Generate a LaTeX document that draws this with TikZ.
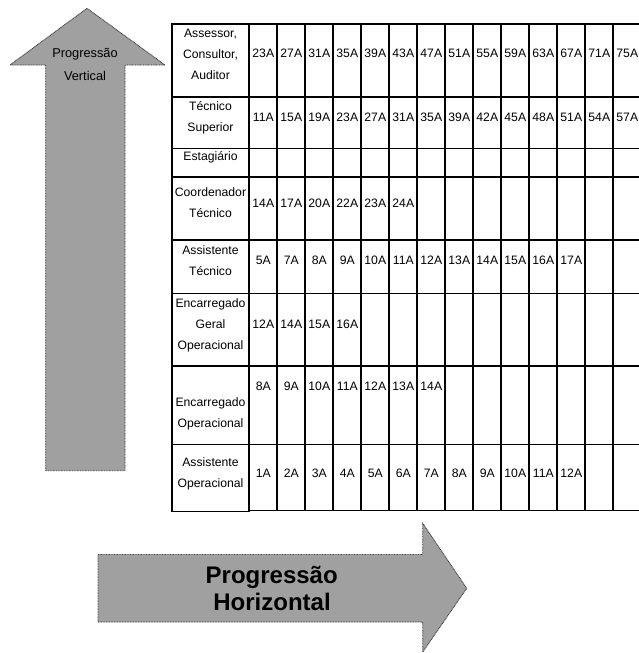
\documentclass[tikz,border=0pt]{standalone}
\usepackage{fontspec}
\setmainfont{Liberation Sans}
\definecolor{arrowgray}{RGB}{160,160,160}
\definecolor{dotgray}{RGB}{60,60,60}
\begin{document}
\begin{tikzpicture}[x=1pt,y=-1pt,
  cell/.style={inner sep=0pt, anchor=base, font=\fontsize{12.2}{14}\selectfont},
  vlabel/.style={inner sep=0pt, anchor=base, font=\fontsize{12.8}{15}\selectfont},
  hlabel/.style={inner sep=0pt, anchor=base, font=\fontsize{24}{27}\selectfont\bfseries},
  arrowshape/.style={fill=arrowgray, draw=dotgray, line width=0.9pt, dash pattern=on 0.9pt off 0.7pt},
  gridline/.style={line width=1.8pt, black},
  thinline/.style={line width=1pt, black},
]
\clip (0,0) rectangle (639,653);
% arrows
\draw[arrowshape] (45.7,470.7) -- (45.7,65) -- (10,65) -- (87,8.3) -- (165,65) -- (125,65) -- (125,470.7) -- cycle;
\draw[arrowshape] (98,554.5) -- (422.7,554.5) -- (422.7,523.3) -- (466.7,588.3) -- (422.7,652) -- (422.7,622) -- (98,622) -- cycle;
\node[vlabel] (vt1) at (85,57.5) {Progressão};
\node[vlabel] (vt2) at (85,80) {Vertical};
\node[hlabel] (ht1) at (271.7,583.3) {Progressão};
\node[hlabel] (ht2) at (272,610.7) {Horizontal};
% table grid
\foreach \y in {24.3,97,177,240,293.5,366,444.5} \draw[gridline] (171,\y) -- (642,\y);
\draw[thinline] (171,148) -- (642,148);
\draw[line width=1.2pt] (249,510.5) -- (642,510.5);
\draw[gridline] (171,511.5) -- (250.2,511.5);
\draw[gridline] (171.9,23.4) -- (171.9,512.4);
\foreach \k in {0,...,14} \draw[gridline] ({249.3+28*\k},23.4) -- ({249.3+28*\k},510.5);
% first column labels
\node[cell] (lab1a) at (210.5,37.7) {Assessor,};
\node[cell] (lab1b) at (210.5,58.3) {Consultor,};
\node[cell] (lab1c) at (210.5,79) {Auditor};
\node[cell] (lab2a) at (210.5,110.5) {Técnico};
\node[cell] (lab2b) at (210.5,131) {Superior};
\node[cell] (lab3a) at (210.5,160.5) {Estagiário};
\node[cell] (lab4a) at (210.5,196.7) {Coordenador};
\node[cell] (lab4b) at (210.5,217.5) {Técnico};
\node[cell] (lab5a) at (210.5,254.5) {Assistente};
\node[cell] (lab5b) at (210.5,275) {Técnico};
\node[cell] (lab6a) at (210.5,307.7) {Encarregado};
\node[cell] (lab6b) at (210.5,328.3) {Geral};
\node[cell] (lab6c) at (210.5,349) {Operacional};
\node[cell] (lab7a) at (210.5,406) {Encarregado};
\node[cell] (lab7b) at (210.5,427) {Operacional};
\node[cell] (lab8a) at (210.5,466) {Assistente};
\node[cell] (lab8b) at (210.5,487) {Operacional};
% data
\foreach \v [count=\i] in {23A,27A,31A,35A,39A,43A,47A,51A,55A,59A,63A,67A,71A,75A}
  \node[cell] (ra\i) at ({249.3+28*(\i-0.5)},57.3) {\v};
\foreach \v [count=\i] in {11A,15A,19A,23A,27A,31A,35A,39A,42A,45A,48A,51A,54A,57A}
  \node[cell] (rb\i) at ({249.3+28*(\i-0.5)},121.7) {\v};
\foreach \v [count=\i] in {14A,17A,20A,22A,23A,24A}
  \node[cell] (rd\i) at ({249.3+28*(\i-0.5)},207.7) {\v};
\foreach \v [count=\i] in {5A,7A,8A,9A,10A,11A,12A,13A,14A,15A,16A,17A}
  \node[cell] (re\i) at ({249.3+28*(\i-0.5)},264.3) {\v};
\foreach \v [count=\i] in {12A,14A,15A,16A}
  \node[cell] (rf\i) at ({249.3+28*(\i-0.5)},328.3) {\v};
\foreach \v [count=\i] in {8A,9A,10A,11A,12A,13A,14A}
  \node[cell] (rg\i) at ({249.3+28*(\i-0.5)},390.7) {\v};
\foreach \v [count=\i] in {1A,2A,3A,4A,5A,6A,7A,8A,9A,10A,11A,12A}
  \node[cell] (rh\i) at ({249.3+28*(\i-0.5)},477.3) {\v};
\end{tikzpicture}
\end{document}
